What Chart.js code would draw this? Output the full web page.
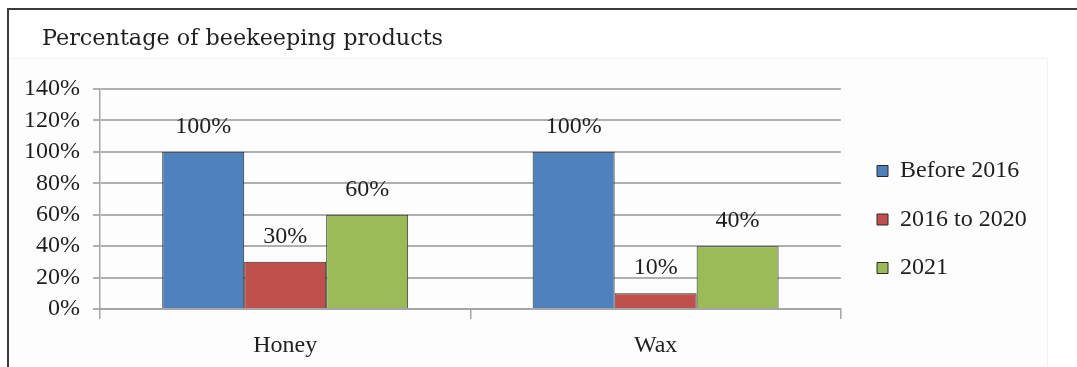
<!DOCTYPE html>
<html>
<head>
<meta charset="utf-8">
<title>Beekeeping products</title>
<script src="https://cdn.jsdelivr.net/npm/chart.js@4.4.0/dist/chart.umd.min.js"></script>
<style>
  body { margin: 0; background: #fff; }
  #wrap { position: relative; width: 1077px; height: 367px; }
</style>
</head>
<body>
<div id="wrap"><canvas id="chart" width="1077" height="367"></canvas></div>
<script>
let products = ['Honey', 'Wax']
let seriesNames = ['Before 2016', '2016 to 2020', '2021']
let before2016 = [100, 100]
let from2016to2020 = [30, 10]
let year2021 = [60, 40]
let yTicks = [0, 20, 40, 60, 80, 100, 120, 140]
let chartTitle = 'Percentage of beekeeping products'

let serifFont = "'Liberation Serif', 'Times New Roman', serif"

// white page, faint inner panel and the dark top/left frame lines
let framePlugin = {
    id: 'frame',
    beforeDraw: function(chart){
        let ctx = chart.ctx
        ctx.save()
        ctx.fillStyle = '#ffffff'
        ctx.fillRect(0, 0, chart.width, chart.height)
        ctx.fillStyle = '#fdfdfd'
        ctx.fillRect(9, 58, 1038, chart.height - 58)
        ctx.strokeStyle = '#f2f2f2'
        ctx.lineWidth = 1
        ctx.beginPath()
        ctx.moveTo(9, 58.5)
        ctx.lineTo(1047.5, 58.5)
        ctx.lineTo(1047.5, chart.height)
        ctx.stroke()
        ctx.strokeStyle = '#3a3a3a'
        ctx.lineWidth = 2
        ctx.beginPath()
        ctx.moveTo(chart.width, 9)
        ctx.lineTo(8, 9)
        ctx.lineTo(8, chart.height)
        ctx.stroke()
        ctx.restore()
    },
    afterDraw: function(chart){
        let ctx = chart.ctx
        ctx.save()
        ctx.fillStyle = '#1e1e1e'
        ctx.font = "22.3px 'DejaVu Serif', serif"
        ctx.textAlign = 'left'
        ctx.textBaseline = 'alphabetic'
        ctx.fillText(chartTitle, 42, 45)
        ctx.restore()
    }
}

// value text above every bar
let valueLabels = {
    id: 'valueLabels',
    afterDatasetsDraw: function(chart){
        let ctx = chart.ctx
        ctx.save()
        ctx.fillStyle = '#1e1e1e'
        ctx.font = '24px ' + serifFont
        ctx.textAlign = 'center'
        ctx.textBaseline = 'alphabetic'
        chart.data.datasets.forEach(function(ds, i){
            chart.getDatasetMeta(i).data.forEach(function(bar, j){
                ctx.fillText(ds.data[j] + '%', bar.x, bar.y - 19)
            })
        })
        ctx.restore()
    }
}

// move the legend column next to the plot, a little higher
let legendNudge = {
    id: 'legendNudge',
    afterLayout: function(chart){
        let lg = chart.legend
        let dx = 852.5 - lg.left
        lg.left += dx
        lg.right += dx
        lg.top -= 8.5
        lg.bottom -= 8.5
    }
}

let ctx = document.getElementById('chart').getContext('2d')

let chart = new Chart(ctx, {
    type: 'bar',
    data: {
        labels: products,
        datasets: [
            { label: seriesNames[0], data: before2016, backgroundColor: '#4f81bd' },
            { label: seriesNames[1], data: from2016to2020, backgroundColor: '#c0504d' },
            { label: seriesNames[2], data: year2021, backgroundColor: '#9bbb59' }
        ].map(function(ds){
            ds.borderColor = '#2a2a2a'
            ds.borderWidth = 1
            ds.categoryPercentage = 0.664
            ds.barPercentage = 1
            return ds
        })
    },
    options: {
        responsive: false,
        animation: false,
        devicePixelRatio: 1,
        layout: {
            padding: { left: 8, right: 52, top: 89, bottom: 0 }
        },
        plugins: {
            title: { display: false },
            tooltip: { enabled: false },
            legend: {
                position: 'right',
                labels: {
                    boxWidth: 11,
                    boxHeight: 11,
                    padding: 24.5,
                    color: '#1e1e1e',
                    font: { family: serifFont, size: 24 }
                }
            }
        },
        scales: {
            x: {
                grid: {
                    display: true,
                    drawOnChartArea: false,
                    drawTicks: true,
                    tickLength: 10,
                    color: '#a6a6a6',
                    lineWidth: 1.5
                },
                border: { display: true, color: '#a6a6a6', width: 2 },
                ticks: {
                    padding: 12,
                    color: '#1e1e1e',
                    font: { family: serifFont, size: 24 }
                },
                afterFit: function(scale){ scale.height = 58 }
            },
            y: {
                min: yTicks[0],
                max: yTicks[yTicks.length - 1],
                grid: {
                    color: '#b0b0b0',
                    lineWidth: 2,
                    tickLength: 7
                },
                border: { display: true, color: '#a6a6a6', width: 1.5 },
                ticks: {
                    stepSize: yTicks[1] - yTicks[0],
                    autoSkip: false,
                    padding: 13,
                    color: '#1e1e1e',
                    font: { family: serifFont, size: 24 },
                    callback: function(v){ return v + '%' }
                },
                afterFit: function(scale){ scale.width = 92 }
            }
        }
    },
    plugins: [framePlugin, valueLabels, legendNudge]
})
</script>
</body>
</html>
